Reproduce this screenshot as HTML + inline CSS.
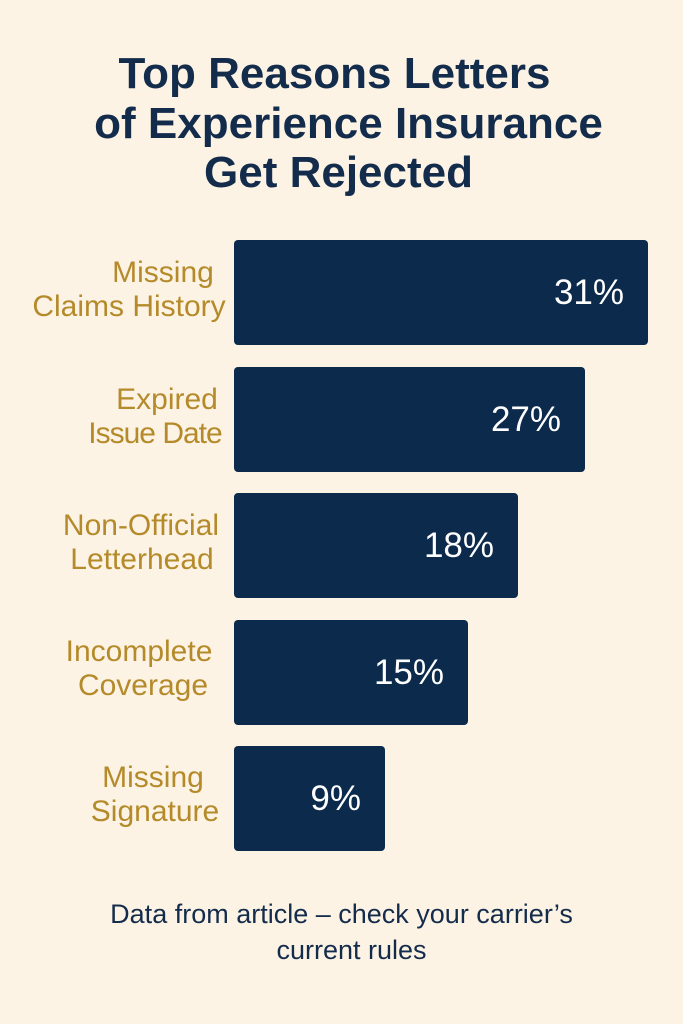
<!DOCTYPE html>
<html><head><meta charset="utf-8"><style>
html,body{margin:0;padding:0}
body{width:683px;height:1024px;background:#fcf3e4;position:relative;overflow:hidden;font-family:"Liberation Sans",sans-serif}
.t{position:absolute;left:0;width:683px;text-align:center;color:#142c4c;font-size:44px;font-weight:bold;line-height:50px}
.bar{position:absolute;left:234px;height:105px;background:#0b2a4c;border-radius:4px}
.v{position:absolute;right:24px;top:0;line-height:105px;color:#fff;font-size:35px}
.l{position:absolute;color:#b58a2a;font-size:30px;white-space:nowrap;line-height:34px;text-align:center;width:240px}
.f{position:absolute;left:0;width:683px;text-align:center;color:#142c4c;font-size:27px;line-height:36px}
</style></head><body>
<div class="t" style="top:49px;left:-7px">Top Reasons Letters</div>
<div class="t" style="top:99px;left:7px">of Experience Insurance</div>
<div class="t" style="top:148px;left:-3px">Get Rejected</div>

<div class="bar" style="top:240px;width:414px"><div class="v">31%</div></div>
<div class="bar" style="top:367px;width:351px"><div class="v">27%</div></div>
<div class="bar" style="top:493px;width:284px"><div class="v">18%</div></div>
<div class="bar" style="top:620px;width:234px"><div class="v">15%</div></div>
<div class="bar" style="top:746px;width:151px"><div class="v">9%</div></div>

<div class="l" style="top:256px;left:43px">Missing</div>
<div class="l" style="top:290px;left:9px">Claims History</div>
<div class="l" style="top:383px;left:47px">Expired</div>
<div class="l" style="top:417px;left:35px;letter-spacing:-1px">Issue Date</div>
<div class="l" style="top:509px;left:21px">Non-Official</div>
<div class="l" style="top:543px;left:22px">Letterhead</div>
<div class="l" style="top:635px;left:19px">Incomplete</div>
<div class="l" style="top:669px;left:23px">Coverage</div>
<div class="l" style="top:761px;left:33px">Missing</div>
<div class="l" style="top:795px;left:35px">Signature</div>

<div class="f" style="top:896px">Data from article – check your carrier’s</div>
<div class="f" style="top:932px;left:10px">current rules</div>
</body></html>
